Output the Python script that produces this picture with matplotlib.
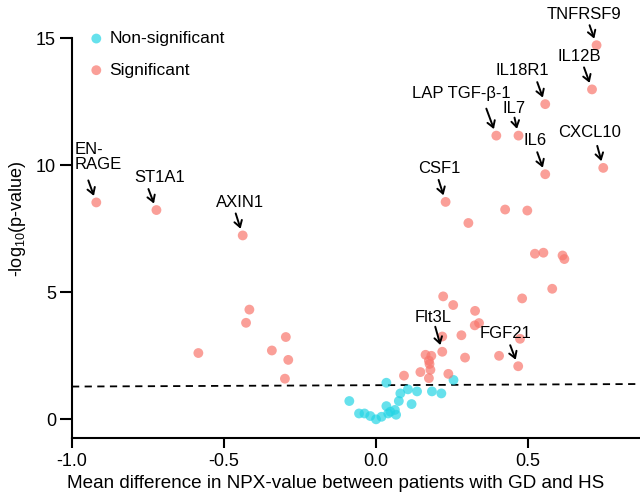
import numpy as np
import matplotlib
matplotlib.use("Agg")
import matplotlib.pyplot as plt

plt.rcParams["font.family"] = ["Liberation Sans", "DejaVu Sans"]
plt.rcParams["mathtext.fontset"] = "custom"
plt.rcParams["mathtext.rm"] = "Liberation Sans"
plt.rcParams["mathtext.it"] = "Liberation Sans"

# non-significant proteins (mean difference, -log10 p)
ns_x = [-0.087, -0.055, -0.037, -0.018, 0.001, 0.019, 0.035, 0.041, 0.048, 0.063,
        0.067, 0.076, 0.081, 0.106, 0.118, 0.136, 0.185, 0.216, 0.035, 0.256]
ns_y = [0.71, 0.22, 0.22, 0.12, -0.01, 0.09, 0.51, 0.22, 0.29, 0.36,
        0.17, 0.71, 1.01, 1.17, 0.59, 1.09, 1.09, 1.01, 1.43, 1.54]

# significant, unlabeled
sig_x = [-0.584, -0.416, -0.427, -0.342, -0.296, -0.288, -0.299,
         0.426, 0.499, 0.305, 0.524, 0.552, 0.615, 0.621, 0.581, 0.482,
         0.222, 0.255, 0.327, 0.340, 0.326, 0.282, 0.475, 0.219,
         0.164, 0.183, 0.177, 0.175, 0.180, 0.175, 0.147, 0.093, 0.239,
         0.294, 0.406]
sig_y = [2.60, 4.31, 3.79, 2.70, 3.23, 2.33, 1.59,
         8.25, 8.21, 7.72, 6.51, 6.55, 6.44, 6.30, 5.13, 4.75,
         4.83, 4.49, 4.26, 3.78, 3.69, 3.30, 3.16, 3.25,
         2.53, 2.49, 2.17, 2.30, 1.94, 1.61, 1.85, 1.71, 1.78,
         2.42, 2.49]

# significant, labeled
lab_names = ["TNFRSF9", "IL12B", "IL18R1", "LAP TGF-β-1", "IL7", "IL6", "CXCL10",
             "CSF1", "EN-\nRAGE", "ST1A1", "AXIN1", "Flt3L", "FGF21"]
lab_x = [0.727, 0.712, 0.558, 0.397, 0.470, 0.558, 0.749,
         0.230, -0.920, -0.722, -0.438, 0.219, 0.469]
lab_y = [14.72, 12.98, 12.40, 11.16, 11.16, 9.64, 9.89,
         8.55, 8.53, 8.23, 7.23, 2.65, 2.08]

# layout: (text dx, text dy, arrow dx, arrow dy) in pixels relative to point
offsets = {
    "TNFRSF9": (-13, 31, -7, 20),
    "IL12B": (-13, 33, -8, 22),
    "IL18R1": (-23, 34, -8, 22),
    "LAP TGF-β-1": (-35, 42, -10, 27),
    "IL7": (-4, 27, -4, 18),
    "IL6": (-10, 34, -8, 22),
    "CXCL10": (-14, 35, -6, 22),
    "CSF1": (-6, 33, -7, 22),
    "EN-\nRAGE": (-22, 45, -8, 22),
    "ST1A1": (3, 33, -8, 21),
    "AXIN1": (-3, 33, -7, 22),
    "Flt3L": (-9, 34, -7, 25),
    "FGF21": (-13, 33, -8, 21),
}

red = "#f8766d"
cyan = "#25d5e5"

fig = plt.figure(figsize=(6.4, 4.97), dpi=100)
ax = fig.add_axes([0.1125, 0.119, 0.8875, 0.881])

ax.scatter(ns_x, ns_y, s=50, color=cyan, alpha=0.7, edgecolors="none",
           label="Non-significant", zorder=3)
ax.scatter(sig_x + lab_x, sig_y + lab_y, s=50, color=red, alpha=0.7,
           edgecolors="none", label="Significant", zorder=3)

ax.plot([-1.0, 0.87], [1.28, 1.38], ls=(0, (4, 3)), color="black", lw=1.3, zorder=2)

for name, x, y in zip(lab_names, lab_x, lab_y):
    tdx, tdy, adx, ady = offsets[name]
    if name.startswith("EN"):
        ax.annotate(name, xy=(x, y), xytext=(tdx, tdy), textcoords="offset pixels",
                    ha="left", va="center", fontsize=12, linespacing=1.0)
    else:
        ax.annotate(name, xy=(x, y), xytext=(tdx, tdy), textcoords="offset pixels",
                    ha="center", va="center", fontsize=12)
    ax.annotate("", xy=(x, y), xytext=(adx, ady), textcoords="offset pixels",
                arrowprops=dict(arrowstyle="->,head_length=0.45,head_width=0.28",
                                color="black", lw=1.4, shrinkA=0, shrinkB=5))

ax.set_xlim(-1.0, 0.87)
ax.set_ylim(-0.74, 16.5)
ax.set_xticks([-1.0, -0.5, 0.0, 0.5])
ax.set_xticklabels(["-1.0", "-0.5", "0.0", "0.5"])
ax.set_yticks([0, 5, 10, 15])
ax.spines["top"].set_visible(False)
ax.spines["right"].set_visible(False)
ax.spines["left"].set_bounds(-0.74, 15)
for s in ["left", "bottom"]:
    ax.spines[s].set_linewidth(1.5)
ax.tick_params(axis="both", width=1.5, labelsize=13)
ax.tick_params(axis="y", length=8.5, pad=3)
ax.tick_params(axis="x", length=7, pad=4)

ax.set_xlabel("Mean difference in NPX-value between patients with GD and HS", fontsize=13.6, labelpad=5)
ax.xaxis.set_label_coords(0.465, -0.085)
ax.set_ylabel("-log$_{10}$(p-value)", fontsize=13, labelpad=6)

ax.legend(loc="upper left", bbox_to_anchor=(0.0, 0.965), frameon=False, fontsize=12.5,
          handlelength=1.0, handletextpad=0.25, labelspacing=0.95, borderaxespad=0.5,
          markerscale=1.0)

fig.savefig("out.png", dpi=100)
